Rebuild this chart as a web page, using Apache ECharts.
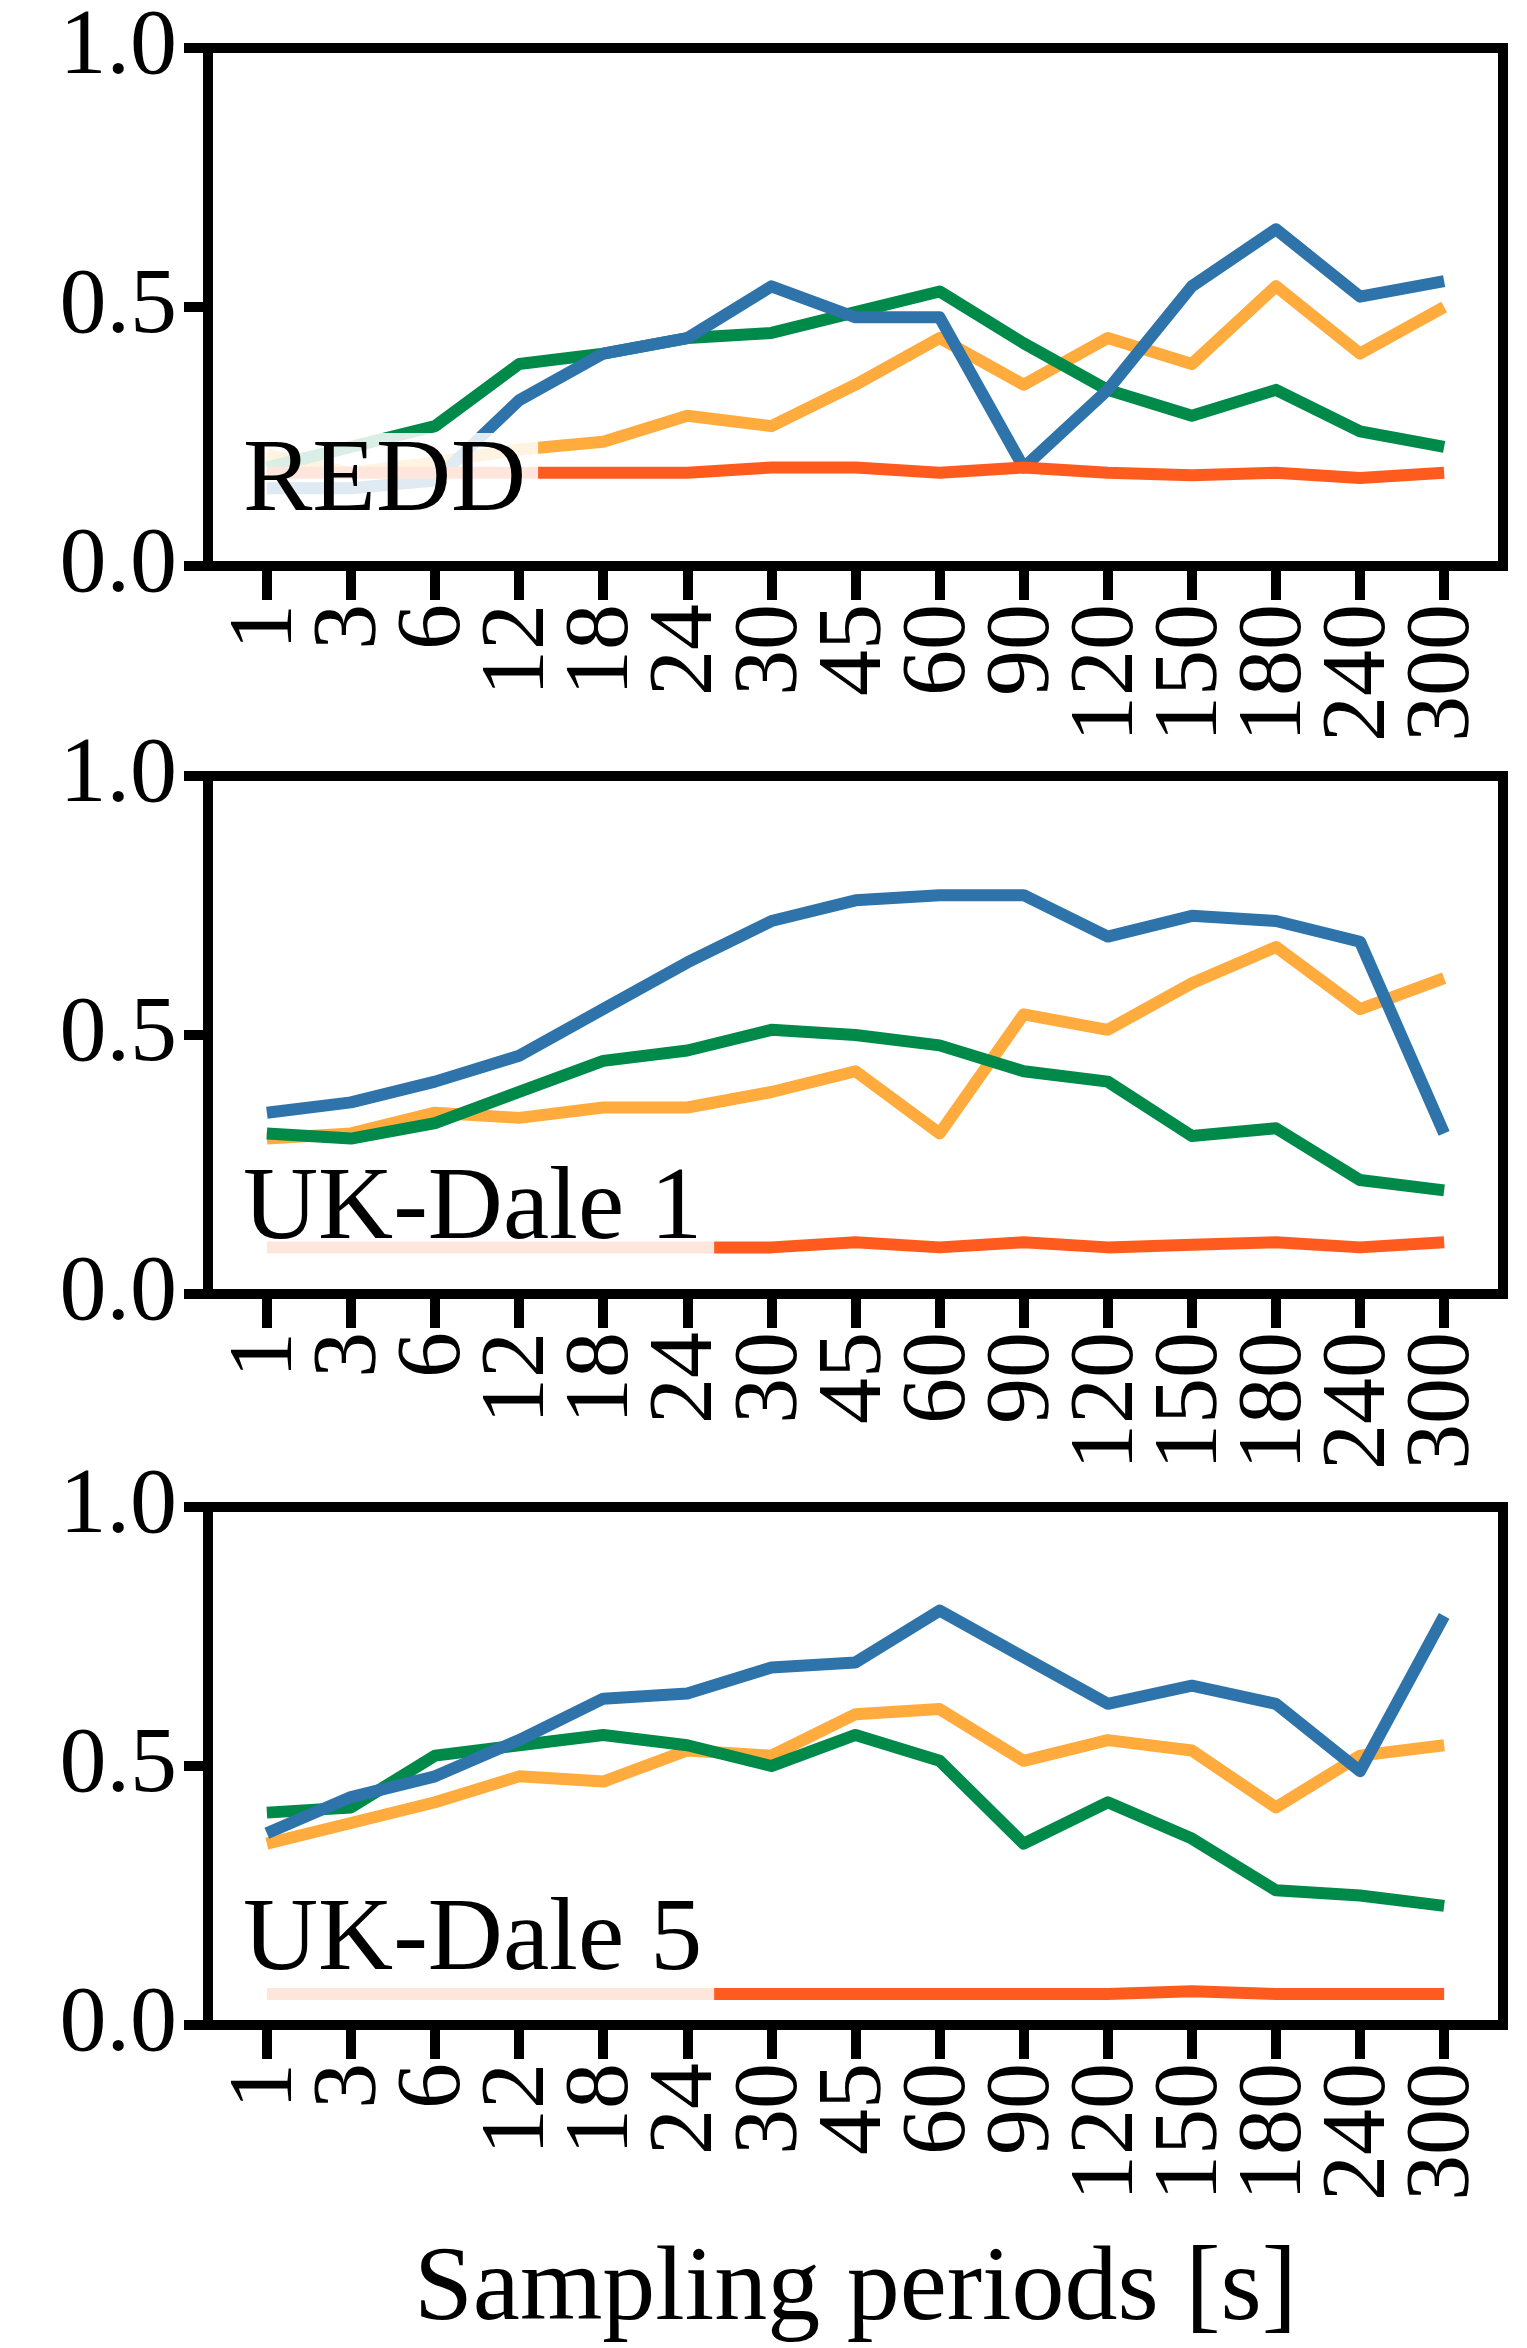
<!DOCTYPE html>
<html><head><meta charset="utf-8">
<script src="https://cdn.jsdelivr.net/npm/echarts@6/dist/echarts.min.js"></script>
<style>html,body{margin:0;padding:0;background:#fff}#c{width:1527px;height:2348px}</style>
</head><body><div id="c"></div>
<script>
// ---- data ----
const categories = ['1','3','6','12','18','24','30','45','60','90','120','150','180','240','300'];
const panelNames = ['REDD', 'UK-Dale 1', 'UK-Dale 5'];
const xTitle = 'Sampling periods [s]';

const reddBlue   = [0.15, 0.15, 0.165, 0.32, 0.41, 0.44, 0.54, 0.48, 0.48, 0.19, 0.34, 0.54, 0.65, 0.52, 0.55];
const reddOrange = [0.215, 0.18, 0.20, 0.225, 0.24, 0.29, 0.27, 0.35, 0.44, 0.35, 0.44, 0.39, 0.54, 0.41, 0.50];
const reddGreen  = [0.19, 0.23, 0.27, 0.39, 0.41, 0.44, 0.45, 0.49, 0.53, 0.43, 0.34, 0.29, 0.34, 0.26, 0.23];
const reddRed    = [0.18, 0.18, 0.18, 0.18, 0.18, 0.18, 0.19, 0.19, 0.18, 0.19, 0.18, 0.175, 0.18, 0.17, 0.18];

const uk1Blue   = [0.35, 0.37, 0.41, 0.46, 0.55, 0.64, 0.72, 0.76, 0.77, 0.77, 0.69, 0.73, 0.72, 0.68, 0.31];
const uk1Orange = [0.30, 0.31, 0.35, 0.34, 0.36, 0.36, 0.39, 0.43, 0.31, 0.54, 0.51, 0.60, 0.67, 0.55, 0.61];
const uk1Green  = [0.31, 0.30, 0.33, 0.39, 0.45, 0.47, 0.51, 0.50, 0.48, 0.43, 0.41, 0.305, 0.32, 0.22, 0.20];
const uk1Red    = [0.09, 0.09, 0.09, 0.09, 0.09, 0.09, 0.09, 0.10, 0.09, 0.10, 0.09, 0.095, 0.10, 0.09, 0.10];

const uk5Blue   = [0.37, 0.44, 0.48, 0.55, 0.63, 0.64, 0.69, 0.70, 0.80, 0.71, 0.62, 0.655, 0.62, 0.49, 0.79];
const uk5Orange = [0.35, 0.39, 0.43, 0.48, 0.47, 0.53, 0.52, 0.60, 0.61, 0.51, 0.55, 0.53, 0.42, 0.52, 0.54];
const uk5Green  = [0.41, 0.42, 0.52, 0.54, 0.56, 0.54, 0.50, 0.56, 0.51, 0.35, 0.43, 0.36, 0.26, 0.25, 0.23];
const uk5Red    = [0.06, 0.06, 0.06, 0.06, 0.06, 0.06, 0.06, 0.06, 0.06, 0.06, 0.06, 0.065, 0.06, 0.06, 0.06];

// ---- style / layout ----
const COLORS = { blue: '#2e74ab', orange: '#ffab3d', green: '#008a4a', red: '#ff5b1f' };
const FONT = 'Liberation Serif';
const panels = [
  { name: panelNames[0], blue: reddBlue, orange: reddOrange, green: reddGreen, red: reddRed },
  { name: panelNames[1], blue: uk1Blue, orange: uk1Orange, green: uk1Green, red: uk1Red },
  { name: panelNames[2], blue: uk5Blue, orange: uk5Orange, green: uk5Green, red: uk5Red }
];
const GRID_LEFT = 208, GRID_W = 1295, GRID_H = 518;
const tops = [48, 776, 1507];
const XMIN = -0.7, XMAX = 14.7;   // 5% margins like matplotlib

const chart = echarts.init(document.getElementById('c'), null, { renderer: 'canvas' });

const measure = (() => {
  const cv = document.createElement('canvas').getContext('2d');
  return (txt, size) => { cv.font = size + 'px "' + FONT + '"'; return cv.measureText(txt).width; };
})();

const grid = [], xAxis = [], yAxis = [], series = [], graphic = [];
const n = categories.length;
const unit = GRID_W / (XMAX - XMIN);

panels.forEach((p, k) => {
  // main plot box
  grid.push({ left: GRID_LEFT, top: tops[k], width: GRID_W, height: GRID_H,
    show: true, borderColor: '#000', borderWidth: 10, backgroundColor: 'transparent', z: 10 });
  xAxis.push({
    type: 'value', gridIndex: k, min: XMIN, max: XMAX,
    axisLine: { show: false, onZero: false }, splitLine: { show: false },
    axisTick: { show: false }, axisLabel: { show: false }
  });
  yAxis.push({
    type: 'value', gridIndex: k, min: 0, max: 1, interval: 0.5,
    axisLine: { show: false, onZero: false },
    splitLine: { show: false },
    axisTick: { show: true, length: 24, lineStyle: { color: '#000', width: 10 } },
    axisLabel: { show: true, margin: 31, showMinLabel: true, showMaxLabel: true,
      formatter: v => v.toFixed(1),
      fontFamily: FONT, fontSize: 94, color: '#000' }
  });
  const order = ['orange', 'green', 'blue', 'red'];
  order.forEach((key, j) => {
    series.push({
      type: 'line', xAxisIndex: k, yAxisIndex: k, name: p.name + ' ' + key,
      data: p[key].map((v, i) => [i, v]),
      showSymbol: false, symbol: 'none', silent: true, animation: false,
      z: 2 + j,
      lineStyle: { color: COLORS[key], width: 12, join: 'round', cap: 'butt' }
    });
  });
  // panel label with semi-transparent white box
  const fs = 104;
  const textLeft = GRID_LEFT + 35;
  const baseline = tops[k] + GRID_H - 53;
  const tw = measure(p.name, fs);
  graphic.push({
    type: 'rect', z: 50, silent: true,
    shape: { x: textLeft - 10, y: baseline - 80, width: tw + 22, height: 110 },
    style: { fill: 'rgba(255,255,255,0.85)' }
  });
  graphic.push({
    type: 'text', z: 51, silent: true,
    x: textLeft, y: baseline - 30,
    style: { text: p.name, fontFamily: FONT, fontSize: fs, fill: '#000', align: 'left', verticalAlign: 'middle' }
  });
});

// category tick/label axes aligned with the data positions 0..n-1 of each panel's value axis
panels.forEach((p, k) => {
  const gi = panels.length + k;
  grid.push({ left: GRID_LEFT + (0 - XMIN) * unit, top: tops[k],
    width: (n - 1) * unit, height: GRID_H, show: false });
  xAxis.push({
    type: 'category', gridIndex: gi, data: categories, boundaryGap: false,
    axisLine: { show: false, onZero: false }, splitLine: { show: false },
    axisTick: { show: true, interval: 0, length: 34, lineStyle: { color: '#000', width: 10 } },
    axisLabel: { show: true, interval: 0, rotate: 90, margin: 38,
      fontFamily: FONT, fontSize: 92, color: '#000' }
  });
  yAxis.push({ type: 'value', gridIndex: gi, min: 0, max: 1, show: false });
});

graphic.push({
  type: 'text', z: 51, silent: true,
  x: GRID_LEFT + GRID_W / 2, y: 2323 - 32,
  style: { text: xTitle, fontFamily: FONT, fontSize: 106, fill: '#000', align: 'center', verticalAlign: 'middle' }
});

chart.setOption({
  animation: false,
  backgroundColor: '#fff',
  grid, xAxis, yAxis, series, graphic
});
</script>
</body></html>
